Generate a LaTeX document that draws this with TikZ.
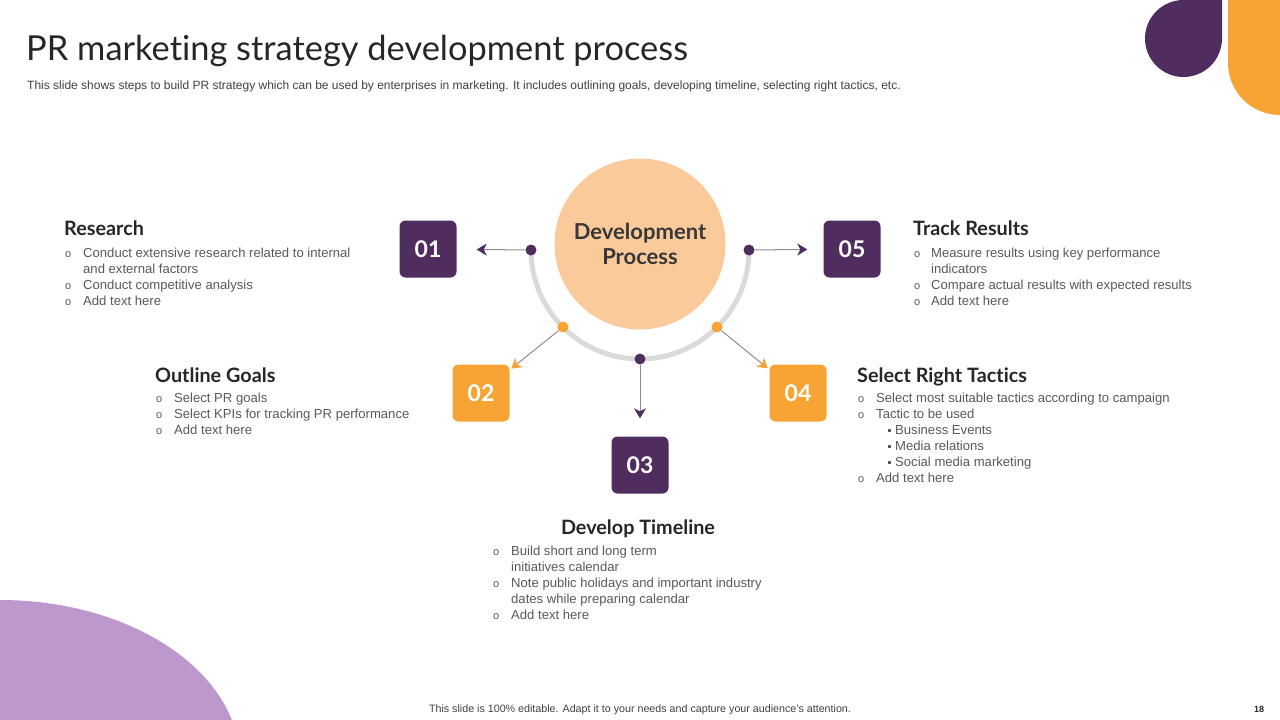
\documentclass[tikz,border=0pt]{standalone}
\usepackage{fontspec}
\setmainfont{Liberation Sans}
\newfontfamily\headfont{Lato}[Ligatures=NoCommon]
\usetikzlibrary{positioning,shapes,arrows.meta}
\definecolor{plum}{HTML}{4F2D5F}
\definecolor{amber}{HTML}{F8A435}
\definecolor{peach}{HTML}{FACA9B}
\definecolor{lilac}{HTML}{BC98CC}
\definecolor{ring}{HTML}{DADADA}
\definecolor{ink}{HTML}{262626}
\definecolor{body}{HTML}{595959}
\tikzstyle{stepbox}=[rounded corners=6pt,minimum size=57pt,inner sep=0pt,text=white,font=\headfont\bfseries\fontsize{23}{23}\selectfont]
\tikzstyle{dot}=[circle,inner sep=0pt,minimum size=11pt]
\tikzstyle{link}=[draw=black!45,line width=1pt]
\tikzstyle{plumtip}=[-{Stealth[length=10pt,width=12pt,inset=3pt,color=plum]}]
\tikzstyle{ambertip}=[-{Stealth[length=10pt,width=12pt,inset=3pt,color=amber]}]
\tikzstyle{heading}=[anchor=base west,inner sep=0pt,text=ink,font=\headfont\bfseries\fontsize{19.8}{20}\selectfont]
\tikzstyle{list}=[anchor=base west,inner sep=0pt,text=body,font=\fontsize{13.1}{16}\selectfont]
\newcommand{\newStep}[4]{\node[stepbox,fill=#3](#1) at #4 {#2};}
\newcommand{\newDot}[3]{\node[dot,fill=#2](#1) at #3 {};}
\newcommand{\newArrow}[4]{\path[link,#3] (#1) edge [#4] (#2);}
\newcommand{\bul}{{\fontsize{11}{11}\selectfont o}}
\newcommand{\sqbul}{\hspace*{12pt}\rule[2.5pt]{3pt}{3pt}\hspace*{4pt}}

\begin{document}
\begin{tikzpicture}[x=1pt,y=-1pt]
  \useasboundingbox (0,0) rectangle (1280,720);
  \clip (0,0) rectangle (1280,720);
  % corner shapes
  \fill[lilac] (0,762) ellipse[x radius=240,y radius=162];
  \fill[amber] (1228,-1) -- (1228,63) arc[start angle=180,end angle=90,radius=52] -- (1281,115) -- (1281,-1) -- cycle;
  \fill[plum] (1222,-1) -- (1222,38.5) arc[start angle=0,end angle=270,radius=38.5] -- cycle;

  % title
  \node[anchor=base west,inner sep=0pt,text=ink,font=\headfont\fontsize{34.4}{34}\selectfont] (title) at (26,60) {PR marketing strategy development process};
  \node[anchor=base west,inner sep=0pt,text=black!75,font=\fontsize{12}{12}\selectfont] (subtitle) at (27,89) {This slide shows steps to build PR strategy which can be used by enterprises in marketing. It includes outlining goals, developing timeline, selecting right tactics, etc.};

  % centre
  \draw[ring,line width=5pt] (531,250) arc[start angle=180,end angle=0,radius=109];
  \node[circle,fill=peach,minimum size=171pt,inner sep=0pt,align=center,text=black!78,font=\headfont\bfseries\fontsize{22}{25}\selectfont] (core) at (640,244) {Development\\Process};

  \newDot{d1}{plum}{(531,250)}
  \newDot{d2}{amber}{(563,327)}
  \newDot{d3}{plum}{(640,359)}
  \newDot{d4}{amber}{(717,327)}
  \newDot{d5}{plum}{(749,250)}

  \newStep{s1}{01}{plum}{(428,249)}
  \newStep{s2}{02}{amber}{(481,393)}
  \newStep{s3}{03}{plum}{(640,465)}
  \newStep{s4}{04}{amber}{(798,393)}
  \newStep{s5}{05}{plum}{(852,249)}

  \newArrow{d1}{s1}{plumtip}{shorten >=20pt}
  \newArrow{d2}{s2}{ambertip}{shorten >=2pt}
  \newArrow{d3}{s3}{plumtip}{shorten >=18pt}
  \newArrow{d4}{s4}{ambertip}{shorten >=2pt}
  \newArrow{d5}{s5}{plumtip}{shorten >=16pt}

  % texts
  \node[heading] (research) at (64,235) {Research};
  \node[list] (researchlist) at (65,257.5) {\begin{tabular}[t]{@{}p{18pt}@{}l@{}}
    \bul & Conduct extensive research related to internal\\
         & and external factors\\
    \bul & Conduct competitive analysis\\
    \bul & Add text here\end{tabular}};

  \node[heading] (goals) at (155,382) {Outline Goals};
  \node[list] (goalslist) at (156,402.5) {\begin{tabular}[t]{@{}p{18pt}@{}l@{}}
    \bul & Select PR goals\\
    \bul & Select KPIs for tracking PR performance\\
    \bul & Add text here\end{tabular}};

  \node[heading,anchor=base] (timeline) at (638,534) {Develop Timeline};
  \node[list] (timelinelist) at (493,555.5) {\begin{tabular}[t]{@{}p{18pt}@{}l@{}}
    \bul & Build short and long term\\
         & initiatives calendar\\
    \bul & Note public holidays and important industry\\
         & dates while preparing calendar\\
    \bul & Add text here\end{tabular}};

  \node[heading] (tactics) at (857,382) {Select Right Tactics};
  \node[list] (tacticslist) at (858,402.5) {\begin{tabular}[t]{@{}p{18pt}@{}l@{}}
    \bul & Select most suitable tactics according to campaign\\
    \bul & Tactic to be used\\
         & \sqbul Business Events\\
         & \sqbul Media relations\\
         & \sqbul Social media marketing\\
    \bul & Add text here\end{tabular}};

  \node[heading] (track) at (913,235) {Track Results};
  \node[list] (tracklist) at (914,257.5) {\begin{tabular}[t]{@{}p{17pt}@{}l@{}}
    \bul & Measure results using key performance\\
         & indicators\\
    \bul & Compare actual results with expected results\\
    \bul & Add text here\end{tabular}};

  % footer
  \node[anchor=base,inner sep=0pt,text=black!75,font=\fontsize{10.7}{11}\selectfont] (footer) at (640,712) {This slide is 100\% editable. Adapt it to your needs and capture your audience's attention.};
  \node[anchor=base,inner sep=0pt,text=ink,font=\bfseries\fontsize{9}{9}\selectfont] (page) at (1259,712) {18};
\end{tikzpicture}
\end{document}
